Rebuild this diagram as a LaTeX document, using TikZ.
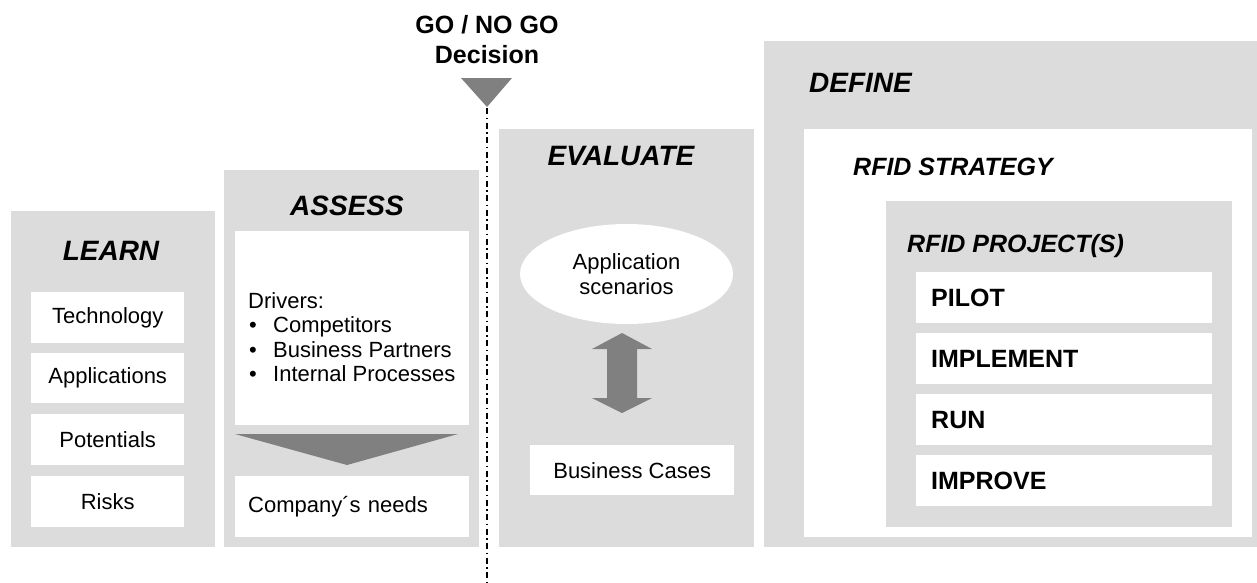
\documentclass[tikz,border=0pt]{standalone}
\usepackage{fontspec}
\setmainfont{Liberation Sans}
\usetikzlibrary{shapes.geometric}
\definecolor{panelgrey}{HTML}{DCDCDC}
\definecolor{arrowgrey}{HTML}{808080}
\begin{document}
\begin{tikzpicture}[x=1pt,y=-1pt,
  panel/.style={fill=panelgrey, inner sep=0pt, anchor=north west},
  card/.style={fill=white, inner sep=0pt, anchor=north west,
    font=\fontsize{22}{25}\selectfont},
  leftcard/.style={card, align=left, inner xsep=13pt},
  stepcard/.style={fill=white, anchor=north west, inner ysep=0pt, inner xsep=15pt,
    minimum width=296pt, minimum height=51pt, text width=266pt, align=left,
    font=\fontsize{25}{28}\selectfont\bfseries},
  stage/.style={inner sep=0pt, font=\fontsize{28}{32}\selectfont\bfseries\itshape},
  substage/.style={inner sep=0pt, anchor=base west,
    font=\fontsize{25}{28}\selectfont\bfseries\itshape},
  bigarrow/.style={fill=arrowgrey},
  gate/.style={line width=2.6pt, dash pattern=on 6pt off 3.5pt on 1.5pt off 3.5pt}
]
\useasboundingbox (0,0) rectangle (1257,582);

% LEARN column
\node[panel, minimum width=204pt, minimum height=336pt] (learn) at (11,211) {};
\node[stage, anchor=base] (learnT) at (111,260) {LEARN};
\node[card, minimum width=153pt, minimum height=51pt] (tech) at (31,292) {Technology};
\node[card, minimum width=153pt, minimum height=50pt] (apps) at (31,353) {Applications};
\node[card, minimum width=153pt, minimum height=51pt] (pots) at (31,414) {Potentials};
\node[card, minimum width=153pt, minimum height=51pt] (risks) at (31,476) {Risks};

% ASSESS column
\node[panel, minimum width=255pt, minimum height=377pt] (assess) at (224,170) {};
\node[stage, anchor=base] (assessT) at (347,215) {ASSESS};
\node[card, minimum width=234pt, minimum height=194pt] (drivers) at (235,231) {};
\node[inner sep=0pt, anchor=north west, align=left,
  font=\fontsize{22}{24.5}\selectfont] (driversT) at (248,292)
  {Drivers:\\
   \makebox[25pt][l]{\hspace{1pt}\textbullet}Competitors\\
   \makebox[25pt][l]{\hspace{1pt}\textbullet}Business Partners\\
   \makebox[25pt][l]{\hspace{1pt}\textbullet}Internal Processes};
\fill[bigarrow] (235,434) -- (458,434) -- (347,465) -- cycle;
\node[leftcard, minimum width=234pt, minimum height=61pt, text width=208pt]
  (needs) at (235,476) {Company´s needs};

% GO / NO GO decision gate
\node[inner sep=0pt, anchor=north, align=center,
  font=\fontsize{25}{30}\selectfont\bfseries] (decision) at (487,15)
  {GO / NO GO\\Decision};
\fill[bigarrow] (461,78) -- (512,78) -- (487,107) -- cycle;
\coordinate (gatetop) at (487,108);
\coordinate (gatebottom) at (487,582);
\draw[gate] (gatetop) -- (gatebottom);

% EVALUATE column
\node[panel, minimum width=255pt, minimum height=418pt] (evaluate) at (499,129) {};
\node[stage, anchor=base] (evaluateT) at (621,165) {EVALUATE};
\node[ellipse, fill=white, inner sep=0pt, minimum width=213pt, minimum height=100pt,
  align=center, font=\fontsize{22}{25}\selectfont] (scen) at (626.5,274)
  {Application\\scenarios};
\fill[bigarrow] (622,333) -- (652,349) -- (637,349) -- (637,398) -- (652,398)
  -- (622,413) -- (592,398) -- (607,398) -- (607,349) -- (592,349) -- cycle;
\node[card, minimum width=204pt, minimum height=50pt] (cases) at (530,445) {Business Cases};

% DEFINE column
\node[panel, minimum width=493pt, minimum height=506pt] (define) at (764,41) {};
\node[stage, anchor=base west] (defineT) at (809,92) {DEFINE};
\node[fill=white, inner sep=0pt, anchor=north west, minimum width=448pt,
  minimum height=408pt] (strategy) at (804,129) {};
\node[substage] (strategyT) at (853,175) {RFID STRATEGY};
\node[panel, minimum width=346pt, minimum height=326pt] (project) at (886,201) {};
\node[substage] (projectT) at (907,252) {RFID PROJECT(S)};
\node[stepcard] (pilot) at (916,272) {PILOT};
\node[stepcard] (implement) at (916,333) {IMPLEMENT};
\node[stepcard] (run) at (916,394) {RUN};
\node[stepcard] (improve) at (916,455) {IMPROVE};
\end{tikzpicture}
\end{document}
